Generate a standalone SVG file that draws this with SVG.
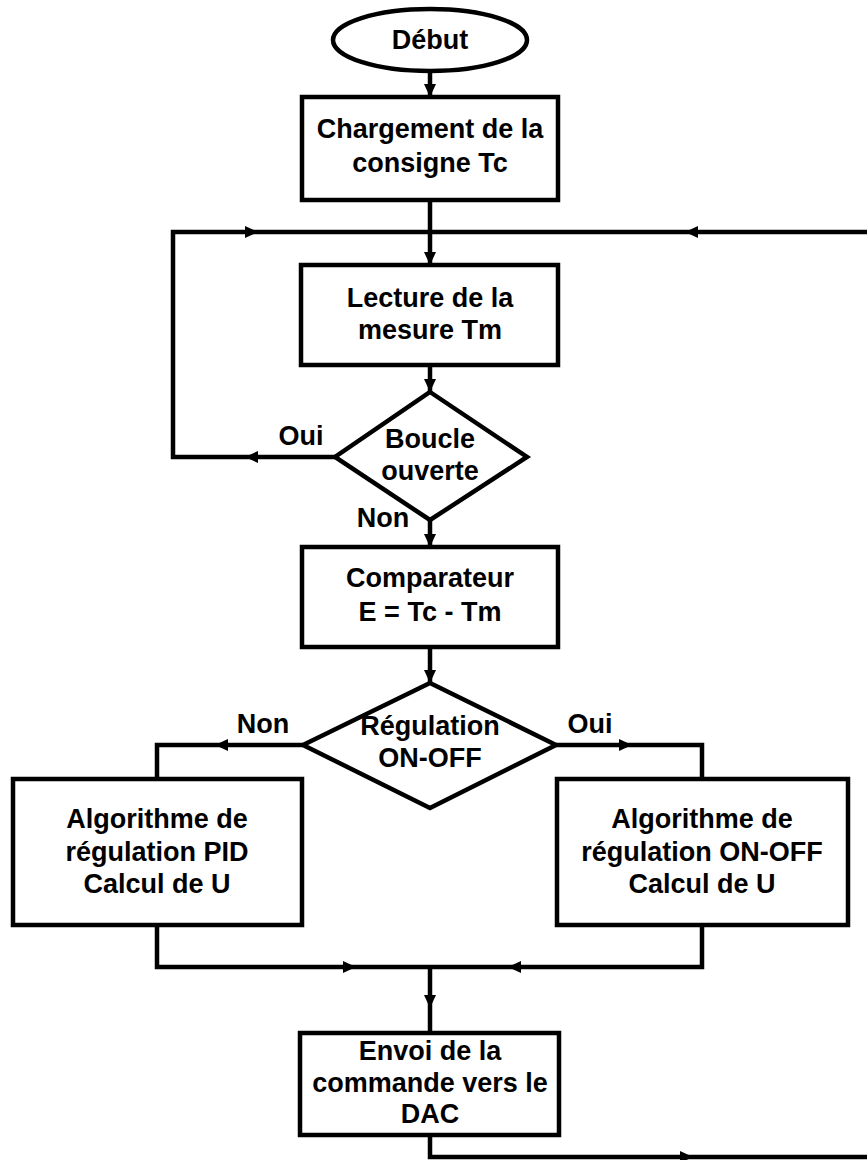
<svg xmlns="http://www.w3.org/2000/svg" width="867" height="1160" viewBox="0 0 867 1160">
  <defs>
    <style>
      .shape { fill: #ffffff; stroke: #000000; stroke-width: 4.5; }
      .wire { fill: none; stroke: #000000; stroke-width: 4.5; stroke-linejoin: miter; }
      .lbl { font-family: "Liberation Sans", Arial, sans-serif; font-weight: bold; font-size: 27px; fill: #000000; text-anchor: middle; }
    </style>
    <marker id="arrow" markerUnits="userSpaceOnUse" markerWidth="13" markerHeight="12" viewBox="0 0 13 12" refX="13" refY="6" orient="auto">
      <path d="M0,0 L13,6 L0,12 z" fill="#000000"/>
    </marker>
  </defs>
  <rect width="867" height="1160" fill="#ffffff"/>

  <!-- connectors -->
  <g id="connectors">
    <path class="wire" d="M430,72 V97" marker-end="url(#arrow)"/>
    <path class="wire" d="M430,200 V265" marker-end="url(#arrow)"/>
    <!-- loop back from the "Oui" branch -->
    <path class="wire" d="M335,457 H245" marker-end="url(#arrow)"/>
    <path class="wire" d="M245,457 H173 V232 H258" marker-end="url(#arrow)"/>
    <path class="wire" d="M258,232 H430"/>
    <!-- return from the DAC stage -->
    <path class="wire" d="M867,232 H685" marker-end="url(#arrow)"/>
    <path class="wire" d="M685,232 H430"/>
    <path class="wire" d="M430,365 V392" marker-end="url(#arrow)"/>
    <path class="wire" d="M430,520 V547" marker-end="url(#arrow)"/>
    <path class="wire" d="M430,647 V683" marker-end="url(#arrow)"/>
    <!-- ON-OFF decision branches -->
    <path class="wire" d="M303,745 H215" marker-end="url(#arrow)"/>
    <path class="wire" d="M215,745 H157 V779"/>
    <path class="wire" d="M556,745 H632" marker-end="url(#arrow)"/>
    <path class="wire" d="M632,745 H702 V779"/>
    <!-- merge towards the DAC -->
    <path class="wire" d="M157,925 V967 H356" marker-end="url(#arrow)"/>
    <path class="wire" d="M356,967 H430"/>
    <path class="wire" d="M702,925 V967 H508" marker-end="url(#arrow)"/>
    <path class="wire" d="M508,967 H430"/>
    <path class="wire" d="M430,967 V1008" marker-end="url(#arrow)"/>
    <path class="wire" d="M430,1008 V1033"/>
    <path class="wire" d="M430,1135 V1157 H693" marker-end="url(#arrow)"/>
    <path class="wire" d="M693,1157 H867"/>
  </g>

  <g id="debut">
    <ellipse class="shape" cx="430" cy="40" rx="97" ry="31"/>
    <text class="lbl" x="430" y="49">Début</text>
  </g>

  <g id="chargement">
    <rect class="shape" x="302" y="97" width="256" height="103"/>
    <text class="lbl" x="430" y="138">Chargement de la</text>
    <text class="lbl" x="430" y="172">consigne Tc</text>
  </g>

  <g id="lecture">
    <rect class="shape" x="301" y="265" width="257" height="100"/>
    <text class="lbl" x="430" y="307">Lecture de la</text>
    <text class="lbl" x="430" y="339">mesure Tm</text>
  </g>

  <g id="boucle">
    <polygon class="shape" points="430,392 527,457 430,520 335,457"/>
    <text class="lbl" x="430" y="448">Boucle</text>
    <text class="lbl" x="430" y="480">ouverte</text>
    <text class="lbl" x="301" y="445">Oui</text>
    <text class="lbl" x="383" y="527">Non</text>
  </g>

  <g id="comparateur">
    <rect class="shape" x="302" y="547" width="256" height="100"/>
    <text class="lbl" x="430" y="587">Comparateur</text>
    <text class="lbl" x="430" y="621">E = Tc - Tm</text>
  </g>

  <g id="regulation">
    <polygon class="shape" points="430,683 556,745 430,808 303,745"/>
    <text class="lbl" x="430" y="735">Régulation</text>
    <text class="lbl" x="430" y="767">ON-OFF</text>
    <text class="lbl" x="263" y="733">Non</text>
    <text class="lbl" x="590" y="733">Oui</text>
  </g>

  <g id="pid">
    <rect class="shape" x="13" y="779" width="289" height="146"/>
    <text class="lbl" x="157" y="828">Algorithme de</text>
    <text class="lbl" x="157" y="861">régulation PID</text>
    <text class="lbl" x="157" y="893">Calcul de U</text>
  </g>

  <g id="onoff">
    <rect class="shape" x="557" y="779" width="291" height="146"/>
    <text class="lbl" x="702" y="828">Algorithme de</text>
    <text class="lbl" x="702" y="861">régulation ON-OFF</text>
    <text class="lbl" x="702" y="893">Calcul de U</text>
  </g>

  <g id="dac">
    <rect class="shape" x="300" y="1033" width="259" height="102"/>
    <text class="lbl" x="430" y="1060">Envoi de la</text>
    <text class="lbl" x="430" y="1092">commande vers le</text>
    <text class="lbl" x="430" y="1123">DAC</text>
  </g>
</svg>
